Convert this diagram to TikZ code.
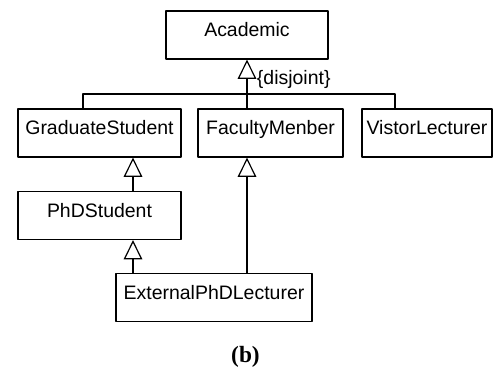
\documentclass[tikz,border=0pt]{standalone}
\usepackage{fontspec}
\setmainfont{Liberation Sans}
\newfontfamily\captionfont{Liberation Serif}
\usetikzlibrary{arrows.meta}

\begin{document}
\begin{tikzpicture}[x=0.75pt, y=-0.75pt, line cap = round, line join = round, line width=0.9pt, >={Triangle[open,length=14.5pt,width=14pt]}]
\tikzstyle{classbox}=[draw=black, rectangle, inner xsep=0pt, inner ysep=0pt, text height=19.3pt, text depth=16.7pt, font=\fontsize{14.6}{16}\selectfont]
\useasboundingbox (0,0) rectangle (496,369);
\node[classbox, minimum width=121.5pt] (academic) at (247,35) {Academic};
\node[classbox, minimum width=122.25pt] (grad) at (99.5,133) {GraduateStudent};
\node[classbox, minimum width=108.75pt] (faculty) at (270.5,133) {FacultyMenber};
\node[classbox, minimum width=97.5pt] (visitor) at (427,133) {VistorLecturer};
\node[classbox, minimum width=122.25pt] (phd) at (99.5,215.5) {PhDStudent};
\node[classbox, minimum width=147pt] (external) at (214,297.5) {ExternalPhDLecturer};
\node[font=\captionfont\bfseries\fontsize{17.5}{19}\selectfont] (caption) at (245.5,357) {(b)};

\coordinate (bus) at (247,94);
\coordinate (busL) at (83,94);
\coordinate (busR) at (395,94);
\coordinate (gs) at ([xshift=25.125pt]grad.south);

\draw[->] (bus) -- (academic.south) node[pos=0.43, right, inner xsep=7pt, font=\fontsize{14.6}{16}\selectfont]{\{disjoint\}};
\draw (grad.north -| busL) -- (busL) -- (busR) -- (visitor.north -| busR);
\draw (bus) -- (faculty.north -| bus);
\draw[->] (phd.north -| gs) -- (gs);
\draw[->] (external.north -| gs) -- (phd.south -| gs);
\draw[->] (external.north -| bus) -- (faculty.south -| bus);
%\draw (bus) circle (2);
\end{tikzpicture}
\end{document}
